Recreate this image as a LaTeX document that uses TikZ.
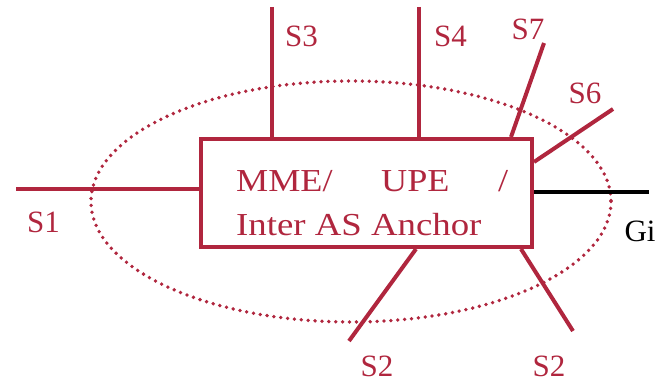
\documentclass[tikz,border=0pt]{standalone}
\usepackage{fontspec}
\setmainfont{Liberation Serif}
\usepackage{graphicx}
\definecolor{crim}{RGB}{176,38,62}
\begin{document}
\begin{tikzpicture}[x=1pt,y=-1pt,
  link/.style={draw=crim,line width=4pt},
  gilink/.style={draw=black,line width=4pt},
  lbl/.style={text=crim,font=\fontsize{31}{31}\selectfont,inner sep=0pt},
  boxtext/.style={text=crim,font=\fontsize{32}{44}\selectfont,inner sep=0pt,anchor=base west},
  nodebox/.style={draw=crim,line width=4pt,minimum width=331pt,minimum height=108pt,inner sep=0pt},
  dots/.style={draw=crim,line width=3.8pt,line cap=round,dash pattern=on 0pt off 6.9pt}
]
\useasboundingbox (0,0) rectangle (663,382);
% dotted ellipse
\draw[dots] (351,201.5) ellipse [x radius=260,y radius=120.5];
% box
\node[nodebox] (box) at (366.5,193) {};
\node[boxtext] (line1) at (236,191) {\makebox[272pt][l]{\scalebox{1.13}[1]{MME/}\hfill\scalebox{1.13}[1]{UPE}\hfill\scalebox{1.13}[1]{/}}};
\node[boxtext] (line2) at (236,235) {\scalebox{1.15}[1]{Inter AS Anchor}};
% free ends
\coordinate (s3e) at (272,7);
\coordinate (s4e) at (419,7);
\coordinate (s7e) at (544,43);
\coordinate (s6e) at (613,109);
\coordinate (gie) at (649,192);
\coordinate (s1e) at (16,189);
\coordinate (s2ae) at (349,341);
\coordinate (s2be) at (573,331);
% connectors
\draw[link] (s3e) -- (s3e |- box.north);
\draw[link] (s4e) -- (s4e |- box.north);
\draw[link] (s7e) -- ([xshift=144.5pt]box.north);
\draw[link] (s6e) -- ([yshift=31pt]box.east);
\draw[gilink] (box.east |- gie) -- (gie);
\draw[link] (s1e) -- (box.west |- s1e);
\draw[link] (s2ae) -- ([xshift=49.5pt]box.south);
\draw[link] (s2be) -- ([xshift=154.5pt]box.south);
% labels
\node[lbl] (ls3) at (301.5,36.5) {S3};
\node[lbl] (ls4) at (450.5,36.5) {S4};
\node[lbl] (ls7) at (528,29.5) {S7};
\node[lbl] (ls6) at (585,93.5) {S6};
\node[lbl] (ls1) at (43.5,222) {S1};
\node[lbl] (ls2a) at (377,366.5) {S2};
\node[lbl] (ls2b) at (549,366) {S2};
\node[lbl,text=black] (lgi) at (640,231.5) {Gi};
\end{tikzpicture}
\end{document}
